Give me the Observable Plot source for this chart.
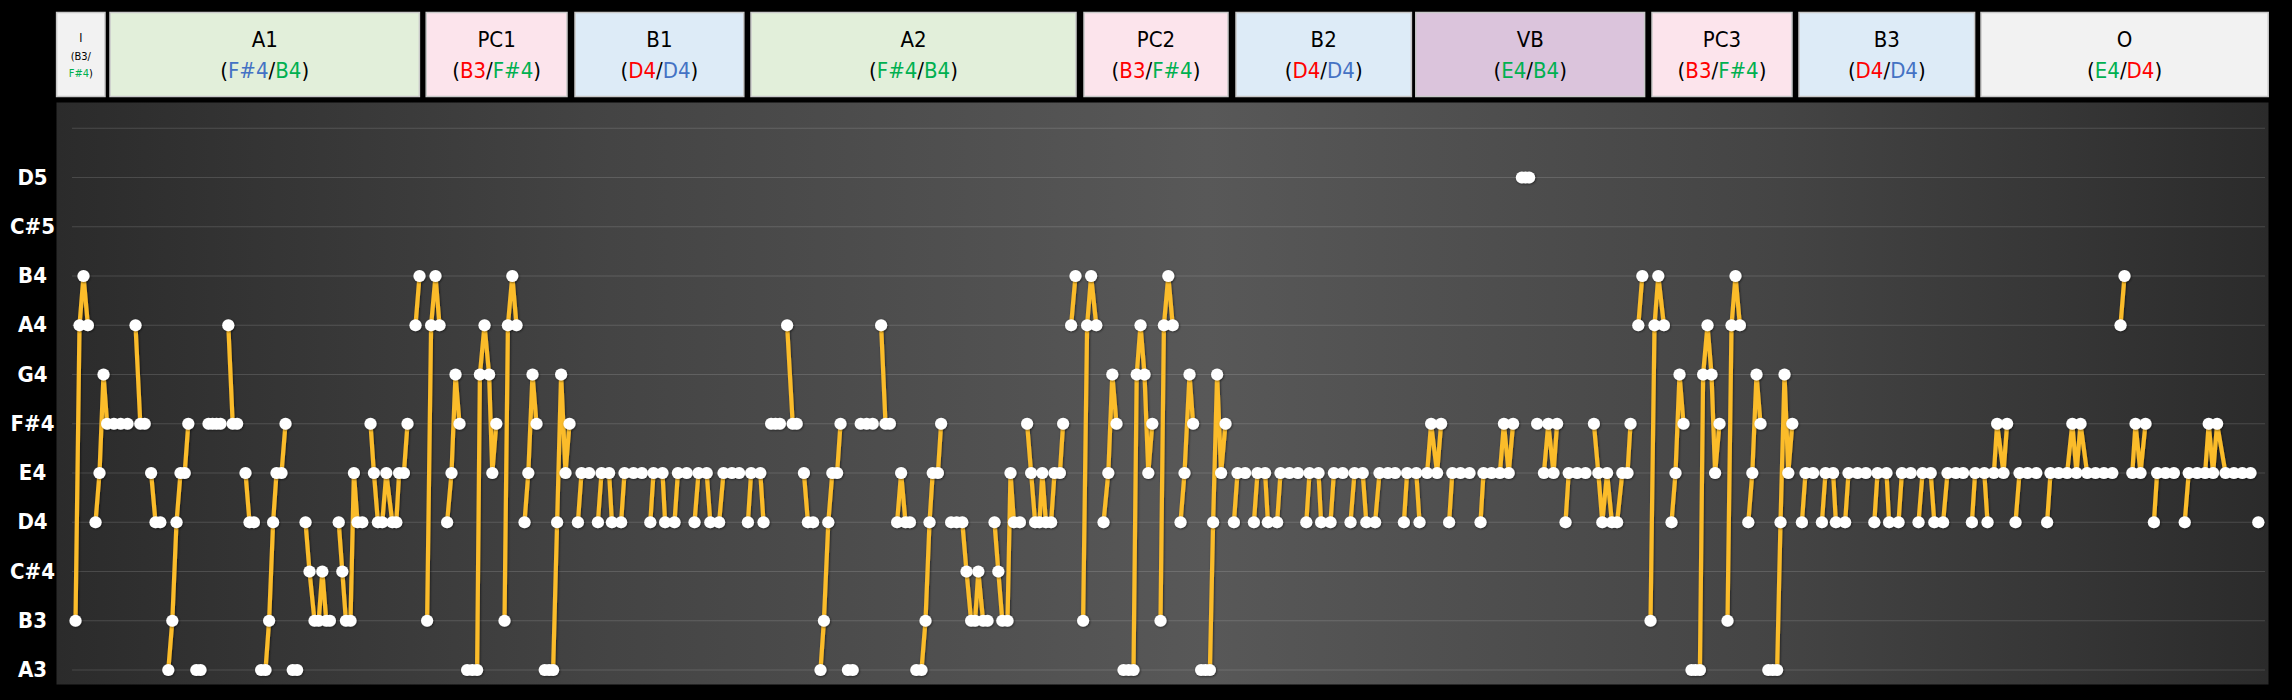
<!DOCTYPE html>
<html><head><meta charset="utf-8">
<script src="https://cdn.jsdelivr.net/npm/d3@7"></script>
<script src="https://cdn.jsdelivr.net/npm/@observablehq/plot@0.6"></script>
<style>html,body{margin:0;padding:0;background:#000;} svg{display:block}</style>
</head><body><div id="chart"></div>
<script>
// ---------- DATA ----------
const pitchNames = ["A3","B3","C#4","D4","E4","F#4","G4","A4","B4","C#5","D5","E5"];
const tickLabels = ["A3","B3","C#4","D4","E4","F#4","G4","A4","B4","C#5","D5"];

// melody: [time, pitch]; null = rest (breaks the line)
const intro = [[0,"B3"],[1,"A4"],[2,"B4"],[3.1,"A4"],null,[5,"D4"],[6,"E4"],[7,"G4"]];
const a1 = [[7.9,"F#4"],[9.6,"F#4"],[11.3,"F#4"],[13,"F#4"],null,
 [15,"A4"],[16.2,"F#4"],[17.3,"F#4"],null,
 [18.9,"E4"],[20,"D4"],[21.2,"D4"],null,
 [23.2,"A3"],[24.2,"B3"],[25.25,"D4"],[26.25,"E4"],[27.3,"E4"],[28.2,"F#4"],null,
 [30.2,"A3"],[31.25,"A3"],null,
 [33.25,"F#4"],[34.25,"F#4"],[35.25,"F#4"],[36.25,"F#4"],null,
 [38.2,"A4"],[39.3,"F#4"],[40.4,"F#4"],null,
 [42.5,"E4"],[43.5,"D4"],[44.6,"D4"],null,
 [46.4,"A3"],[47.5,"A3"],[48.4,"B3"],[49.4,"D4"],[50.25,"E4"],[51.5,"E4"],[52.5,"F#4"],null,
 [54.3,"A3"],[55.4,"A3"],null,
 [57.5,"D4"],[58.5,"C#4"],[59.75,"B3"],[60.8,"B3"],[61.7,"C#4"],[62.7,"B3"],[63.6,"B3"],null,
 [65.8,"D4"],[66.7,"C#4"],[67.6,"B3"],[68.75,"B3"],[69.6,"E4"],[70.5,"D4"],[71.7,"D4"],null,
 [73.75,"F#4"],[74.6,"E4"],[75.6,"D4"],[76.7,"D4"],[77.7,"E4"],[79.2,"D4"],[80.2,"D4"],[80.9,"E4"],[82.1,"E4"],[83,"F#4"],null,
 [85,"A4"],[86,"B4"],null];
const pc1 = [[87.9,"B3"],[88.9,"A4"],[90,"B4"],[91,"A4"],null,
 [92.9,"D4"],[94,"E4"],[95,"G4"],[96,"F#4"],null,
 [97.9,"A3"],[99.2,"A3"],[100.4,"A3"],[101.1,"G4"],[102.25,"A4"],[103.4,"G4"],[104.2,"E4"],[105.2,"F#4"],null,
 [107.25,"B3"],[108.1,"A4"],[109.2,"B4"],[110.25,"A4"],null,
 [112.25,"D4"],[113.2,"E4"],[114.25,"G4"],[115.25,"F#4"],null,
 [117.3,"A3"],[118.4,"A3"],[119.4,"A3"],[120.4,"D4"],[121.4,"G4"],[122.5,"E4"],[123.5,"F#4"],null];
const b1 = [[125.6,"D4"],[126.5,"E4"],[128.4,"E4"],null,
 [130.6,"D4"],[131.5,"E4"],[133.4,"E4"],[134.1,"D4"],[136.4,"D4"],[137.25,"E4"],[139.5,"E4"],[141.6,"E4"],null,
 [143.7,"D4"],[144.5,"E4"],[146.75,"E4"],[147.4,"D4"],[149.75,"D4"],[150.6,"E4"],[152.8,"E4"],null,
 [154.75,"D4"],[155.75,"E4"],[157.8,"E4"],[158.7,"D4"],[160.9,"D4"],[162,"E4"],[164.1,"E4"],[165.9,"E4"],null,
 [168.1,"D4"],[168.9,"E4"],[171.2,"E4"],[172,"D4"],null];
const a2 = [[173.9,"F#4"],[175,"F#4"],[176.1,"F#4"],null,
 [177.9,"A4"],[179.3,"F#4"],[180.3,"F#4"],null,
 [182.1,"E4"],[183.1,"D4"],[184.4,"D4"],null,
 [186.25,"A3"],[187.1,"B3"],[188.2,"D4"],[189.2,"E4"],[190.4,"E4"],[191.25,"F#4"],null,
 [193.1,"A3"],[194.3,"A3"],null,
 [196.3,"F#4"],[197.8,"F#4"],[199.3,"F#4"],null,
 [201.4,"A4"],[202.5,"F#4"],[203.6,"F#4"],null,
 [205.4,"D4"],[206.4,"E4"],[207.5,"D4"],[208.6,"D4"],null,
 [210.2,"A3"],[211.5,"A3"],[212.5,"B3"],[213.5,"D4"],[214.3,"E4"],[215.6,"E4"],[216.4,"F#4"],null,
 [218.9,"D4"],[220.3,"D4"],[221.7,"D4"],[222.75,"C#4"],[223.9,"B3"],[224.9,"B3"],[225.7,"C#4"],[226.9,"B3"],[228,"B3"],null,
 [229.75,"D4"],[230.7,"C#4"],[231.7,"B3"],[233,"B3"],[233.75,"E4"],[234.6,"D4"],[236.1,"D4"],null,
 [237.9,"F#4"],[238.9,"E4"],[239.9,"D4"],[241,"D4"],[241.7,"E4"],[242.6,"D4"],[243.9,"D4"],[244.75,"E4"],[246.1,"E4"],[246.9,"F#4"],null,
 [248.9,"A4"],[250,"B4"],null];
const pc2 = [[251.9,"B3"],[252.9,"A4"],[253.9,"B4"],[255.2,"A4"],null,
 [257,"D4"],[258.2,"E4"],[259.2,"G4"],[260.25,"F#4"],null,
 [262,"A3"],[263.3,"A3"],[264.5,"A3"],[265.3,"G4"],[266.25,"A4"],[267.25,"G4"],[268.2,"E4"],[269.2,"F#4"],null,
 [271.25,"B3"],[272.1,"A4"],[273.2,"B4"],[274.3,"A4"],null,
 [276.25,"D4"],[277.25,"E4"],[278.5,"G4"],[279.4,"F#4"],null,
 [281.4,"A3"],[282.5,"A3"],[283.6,"A3"],[284.4,"D4"],[285.4,"G4"],[286.4,"E4"],[287.5,"F#4"],null];
const b2 = [[289.6,"D4"],[290.5,"E4"],[292.4,"E4"],null,
 [294.6,"D4"],[295.5,"E4"],[297.4,"E4"],[298.1,"D4"],[300.4,"D4"],[301.25,"E4"],[303.5,"E4"],[305.6,"E4"],null,
 [307.7,"D4"],[308.5,"E4"],[310.75,"E4"],[311.4,"D4"],[313.75,"D4"],[314.6,"E4"],[316.8,"E4"],null,
 [318.75,"D4"],[319.75,"E4"],[321.8,"E4"],[322.7,"D4"],[324.9,"D4"],[326,"E4"],[328.1,"E4"],[329.9,"E4"],null,
 [332.1,"D4"],[332.9,"E4"],[335.2,"E4"],[336,"D4"],null];
const vb = [[337.9,"E4"],[338.9,"F#4"],[340.4,"E4"],[341.4,"F#4"],null,
 [343.4,"D4"],[344.2,"E4"],[346.25,"E4"],[348.5,"E4"],null,
 [351.25,"D4"],[352,"E4"],[354,"E4"],[356.1,"E4"],[357.1,"F#4"],[358.3,"E4"],[359.4,"F#4"],null,
 [361.6,"D5"],[362.5,"D5"],[363.4,"D5"],null,
 [365.4,"F#4"],null,
 [367.1,"E4"],[368.2,"F#4"],[369.5,"E4"],[370.4,"F#4"],null,
 [372.5,"D4"],[373.3,"E4"],[375.4,"E4"],[377.5,"E4"],null,
 [379.6,"F#4"],[380.7,"E4"],[381.7,"D4"],[382.9,"E4"],[384.1,"D4"],[385.4,"D4"],[386.7,"E4"],[388,"E4"],[388.75,"F#4"],null,
 [390.7,"A4"],[391.7,"B4"],null];
const pc3 = [[393.75,"B3"],[394.75,"A4"],[395.7,"B4"],[397.1,"A4"],null,
 [399,"D4"],[400,"E4"],[401,"G4"],[402,"F#4"],null,
 [404,"A3"],[405,"A3"],[406.1,"A3"],[406.9,"G4"],[408,"A4"],[409,"G4"],[409.9,"E4"],[411,"F#4"],null,
 [413,"B3"],[414,"A4"],[415,"B4"],[416.1,"A4"],null,
 [418.2,"D4"],[419.2,"E4"],[420.25,"G4"],[421.25,"F#4"],null,
 [423.2,"A3"],[424.3,"A3"],[425.4,"A3"],[426.25,"D4"],[427.25,"G4"],[428.2,"E4"],[429.2,"F#4"],null];
const b3 = [[431.6,"D4"],[432.5,"E4"],[434.4,"E4"],null,
 [436.6,"D4"],[437.5,"E4"],[439.4,"E4"],[440.1,"D4"],[442.4,"D4"],[443.25,"E4"],[445.5,"E4"],[447.6,"E4"],null,
 [449.7,"D4"],[450.5,"E4"],[452.75,"E4"],[453.4,"D4"],[455.75,"D4"],[456.6,"E4"],[458.8,"E4"],null,
 [460.75,"D4"],[461.75,"E4"],[463.8,"E4"],[464.7,"D4"],[466.9,"D4"],[468,"E4"],[470.1,"E4"],[471.9,"E4"],null,
 [474.1,"D4"],[474.9,"E4"],[477.2,"E4"],[478,"D4"],null];
const outro = [[479.6,"E4"],[480.4,"F#4"],[482,"E4"],[482.9,"F#4"],null,
 [485,"D4"],[486,"E4"],[488,"E4"],[490.2,"E4"],null,
 [492.9,"D4"],[493.75,"E4"],[495.8,"E4"],[497.9,"E4"],[499.2,"F#4"],[500.25,"E4"],[501.25,"F#4"],[502.9,"E4"],[505,"E4"],[507.1,"E4"],[509.2,"E4"],null,
 [511.25,"A4"],[512.25,"B4"],null,
 [514.2,"E4"],[515,"F#4"],[516.25,"E4"],[517.5,"F#4"],null,
 [519.6,"D4"],[520.4,"E4"],[522.5,"E4"],[524.6,"E4"],null,
 [527.3,"D4"],[528.3,"E4"],[530.4,"E4"],[532.4,"E4"],[533.3,"F#4"],[534.4,"E4"],[535.4,"F#4"],[537.5,"E4"],[539.6,"E4"],[541.7,"E4"],[543.75,"E4"],null,
 [545.7,"D4"]];

// sections (header boxes)
const sectionNames = ["I","A1","PC1","B1","A2","PC2","B2","VB","PC3","B3","O"];
const sectionKind  = ["I","A","PC","B","A","PC","B","VB","PC","B","O"];
const sectionStart = [-4.6, 8.75, 87.8, 125, 169, 252.25, 290.25, 335.2, 394.25, 431, 476.5];
const sectionEnd   = [7.5, 86.1, 123, 167.2, 250.25, 288.25, 334.1, 392.4, 429.25, 474.9, 548.3];
const sectionFrom  = ["B3","F#4","B3","D4","F#4","B3","D4","E4","B3","D4","E4"];
const sectionTo    = ["F#4","B4","F#4","D4","B4","F#4","D4","B4","F#4","D4","D4"];
const fromTone     = ["plain","blue","red","red","green","red","red","green","red","red","green"];
const toTone       = ["green","green","green","blue","green","green","blue","green","green","blue","red"];

// ---------- STYLE ----------
const kindFill = {I:"#f2f2f2", A:"#e2efda", PC:"#fce4ec", B:"#ddebf7", VB:"#dbc4dc", O:"#f2f2f2"};
const toneColor = {plain:"#000", blue:"#4472c4", green:"#00b050", red:"#ff0000"};
const FONT = "'Liberation Sans Narrow','DejaVu Sans Condensed',Lato,sans-serif";

const melody = [...intro, ...a1, ...pc1, ...b1, ...a2, ...pc2, ...b2, ...vb, ...pc3, ...b3, ...outro];
const rows = melody.map(d => d ? {t: d[0], p: pitchNames.indexOf(d[1])} : {t: NaN, p: NaN});
const points = rows.filter(d => !isNaN(d.t));

const xDomain = [-0.75, 547.5], xRange = [72, 2265];
const fallbackX = d3.scaleLinear(xDomain, xRange);

function defsMark() {
  const defs = document.createElementNS("http://www.w3.org/2000/svg", "defs");
  defs.innerHTML = `
    <linearGradient id="panelGrad" x1="0" x2="1" y1="0" y2="0">
      <stop offset="0" stop-color="#2b2b2b"/>
      <stop offset="0.25" stop-color="#444"/>
      <stop offset="0.52" stop-color="#585858"/>
      <stop offset="0.78" stop-color="#444"/>
      <stop offset="1" stop-color="#2b2b2b"/>
    </linearGradient>
    <filter id="shadow" x="-20%" y="-20%" width="140%" height="140%">
      <feDropShadow dx="0.8" dy="0.8" stdDeviation="0.8" flood-color="#000" flood-opacity="0.55"/>
    </filter>`;
  return defs;
}

function headerMark(index, scales) {
  const x = (scales && scales.x) ? scales.x : fallbackX;
  const g = d3.create("svg:g").attr("font-family", FONT);
  sectionNames.forEach((name, i) => {
    const x1 = x(sectionStart[i]), x2 = x(sectionEnd[i]);
    const cx = (x1 + x2) / 2;
    g.append("rect").attr("x", x1).attr("y", 12.5).attr("width", x2 - x1).attr("height", 84)
      .attr("fill", kindFill[sectionKind[i]]).attr("stroke", "#c9c9c9").attr("stroke-width", 1.5);
    if (sectionKind[i] === "I") {
      g.append("text").attr("x", cx).attr("y", 42).attr("text-anchor", "middle").attr("font-size", 12).attr("fill", "#000").text(name);
      const t2 = g.append("text").attr("x", cx).attr("y", 60).attr("text-anchor", "middle").attr("font-size", 11).attr("fill", "#000");
      t2.append("tspan").text("(");
      t2.append("tspan").attr("fill", toneColor[fromTone[i]]).text(sectionFrom[i]);
      t2.append("tspan").text("/");
      const t3 = g.append("text").attr("x", cx).attr("y", 77).attr("text-anchor", "middle").attr("font-size", 11).attr("fill", "#000");
      t3.append("tspan").attr("fill", toneColor[toTone[i]]).text(sectionTo[i]);
      t3.append("tspan").text(")");
    } else {
      g.append("text").attr("x", cx).attr("y", 47).attr("text-anchor", "middle").attr("font-size", 22).attr("fill", "#000").text(name);
      const t2 = g.append("text").attr("x", cx).attr("y", 78).attr("text-anchor", "middle").attr("font-size", 22).attr("fill", "#000");
      t2.append("tspan").text("(");
      t2.append("tspan").attr("fill", toneColor[fromTone[i]]).text(sectionFrom[i]);
      t2.append("tspan").text("/");
      t2.append("tspan").attr("fill", toneColor[toTone[i]]).text(sectionTo[i]);
      t2.append("tspan").text(")");
    }
  });
  return g.node();
}

const chart = Plot.plot({
  width: 2292, height: 700,
  marginLeft: 56, marginRight: 24, marginTop: 102, marginBottom: 16,
  style: {background: "#000", color: "#fff", fontFamily: FONT},
  x: {domain: xDomain, range: xRange, axis: null},
  y: {domain: [0, 11], range: [669.5, 127.75], axis: null},
  marks: [
    defsMark,
    Plot.frame({fill: "url(#panelGrad)", stroke: null}),
    Plot.ruleY(d3.range(12), {y: d => d, x1: () => xDomain[0], x2: () => xDomain[1], stroke: "#fff", strokeOpacity: 0.14, strokeWidth: 1}),
    Plot.line(rows, {x: "t", y: "p", stroke: "#fbbc2c", strokeWidth: 4.2, curve: "linear"}),
    Plot.dot(points, {x: "t", y: "p", r: 6.1, fill: "#fff", stroke: null}),
    Plot.text(d3.range(11), {y: d => d, text: d => tickLabels[d], frameAnchor: "left", dx: -24, textAnchor: "middle", fill: "#fff", fontSize: 22, fontWeight: 700}),
    headerMark
  ]
});
chart.querySelectorAll('g[aria-label="line"], g[aria-label="dot"]').forEach(el => el.setAttribute("filter", "url(#shadow)"));
document.getElementById("chart").appendChild(chart);
</script>
</body></html>
